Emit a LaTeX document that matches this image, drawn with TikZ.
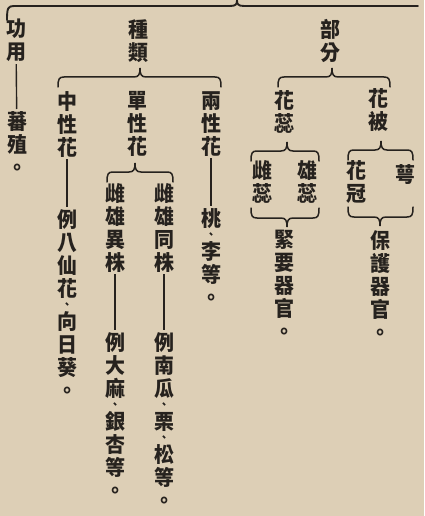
\documentclass[tikz,border=0pt]{standalone}
\usepackage{fontspec}
\newfontfamily\cjk{Noto Sans CJK TC}[FakeStretch=0.95]
\definecolor{paper}{HTML}{DDCFB6}
\definecolor{ink}{HTML}{26221E}
\tikzset{
  vt/.style={font=\cjk\bfseries\fontsize{21}{23}\selectfont, align=center, anchor=north, inner sep=0pt, text=ink},
  br/.style={draw=ink, line width=1.5pt, line cap=round},
  ln/.style={draw=ink, line width=1.4pt, shorten <=2pt, shorten >=2pt}
}
\newcommand\pc[1]{\\[-10.3pt]{\fontsize{11}{11}\selectfont #1}\\[-2.7pt]}
% horizontal brace: xl, xc, xr, y, sign (1 = cusp up, -1 = cusp down)
\newcommand\hbr[5]{%
  \draw[br] (#1,{#4+#5*10}) .. controls (#1,{#4+#5*2}) and ({#1+1},#4) .. ({#1+6},#4)
    -- ({#2-6},#4) .. controls ({#2-1},#4) and (#2,{#4-#5*3}) .. (#2,{#4-#5*9})
    .. controls (#2,{#4-#5*3}) and ({#2+1},#4) .. ({#2+6},#4)
    -- ({#3-6},#4) .. controls ({#3-1},#4) and (#3,{#4+#5*2}) .. (#3,{#4+#5*10});}
\begin{document}
\begin{tikzpicture}[x=1pt,y=-1pt]
\fill[paper] (0,0) rectangle (424,516);
\useasboundingbox (0,0) rectangle (424,516);

% top brace
\draw[br, line width=1.9pt] (7,20) .. controls (7,8) and (8,6) .. (14,6) -- (230,6)
  .. controls (236,6) and (237,4) .. (237,0.5) .. controls (237,4) and (238,6) .. (244,6) -- (418,6);

% level 1
\node[vt] (bufen) at (330,19) {部\\分};
\node[vt] (zhonglei) at (138,19) {種\\類};
\node[vt] (gongyong) at (16,19) {功\\用};

% parts
\hbr{278}{332}{390}{77}{1}
\node[vt] (huabei) at (378,88) {花\\被};
\node[vt] (huarui) at (284,90) {花\\蕊};
\hbr{348}{381}{413}{150}{1}
\node[vt] (e) at (405,164) {萼};
\node[vt] (huaguan) at (356,160) {花\\冠};
\hbr{348}{380}{413}{217}{-1}
\node[vt] (baohu) at (380,230) {保\\護\\器\\官\\。};
\hbr{251}{287}{319}{151}{1}
\node[vt] (xiongrui) at (307,160) {雄\\蕊};
\node[vt] (cirui) at (262,160) {雌\\蕊};
\hbr{251}{287}{319}{218}{-1}
\node[vt] (jinyao) at (284,230) {緊\\要\\器\\官\\。};

% kinds
\hbr{58}{140}{221}{77}{1}
\node[vt] (liangxing) at (211,91) {兩\\性\\花};
\node[vt] (taoli) at (211,208) {桃\pc{、}李\\等\\。};
\draw[ln] (liangxing) -- (taoli);

\node[vt] (danxing) at (137,91) {單\\性\\花};
\hbr{107}{135}{173}{172}{1}
\node[vt] (tongzhu) at (164,183) {雌\\雄\\同\\株};
\node[vt] (nangua) at (164,332) {例\\南\\瓜\pc{、}栗\pc{、}松\\等\\。};
\draw[ln] (tongzhu) -- (nangua);
\node[vt] (yizhu) at (115,183) {雌\\雄\\異\\株};
\node[vt] (dama) at (115,332) {例\\大\\麻\pc{、}銀\\杏\\等\\。};
\draw[ln] (yizhu) -- (dama);

\node[vt] (zhongxing) at (67,91) {中\\性\\花};
\node[vt] (baxian) at (67,209) {例\\八\\仙\\花\pc{、}向\\日\\葵\\。};
\draw[ln] (zhongxing) -- (baxian);

% function
\node[vt] (fanzhi) at (17,111) {蕃\\殖\\。};
\draw[ln] (gongyong) -- (fanzhi);
\end{tikzpicture}
\end{document}
